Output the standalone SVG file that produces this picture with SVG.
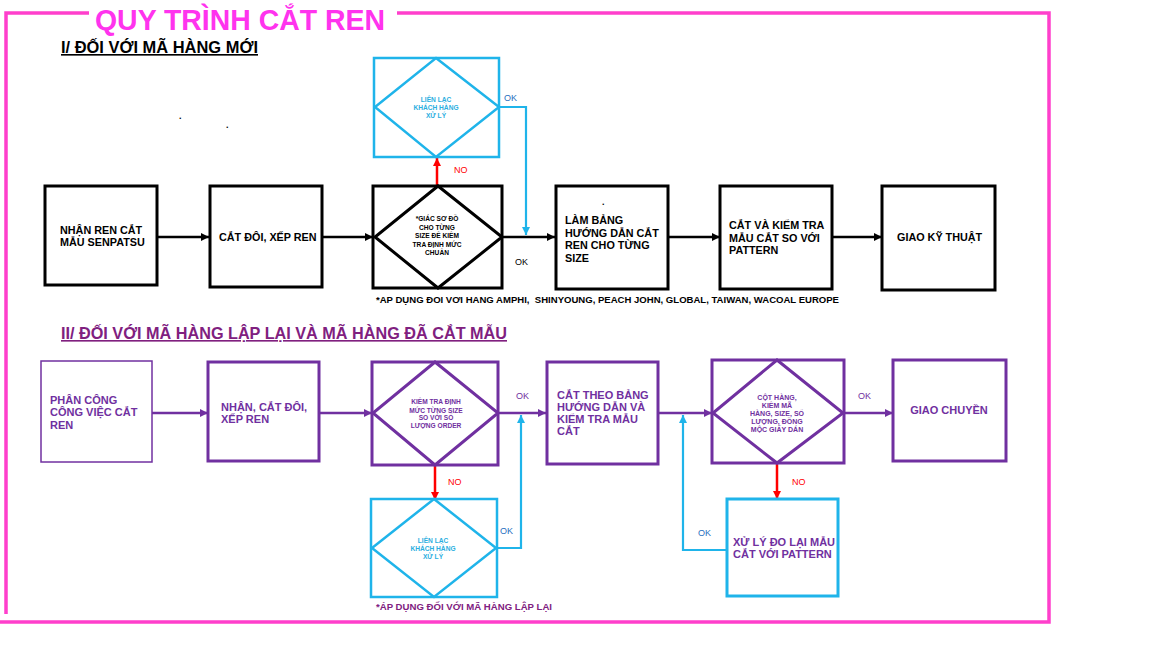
<svg xmlns="http://www.w3.org/2000/svg" width="1152" height="648" viewBox="0 0 1152 648">
<style>
text{font-family:"Liberation Sans",Arial,sans-serif;font-weight:bold}
.blk{fill:none;stroke:#000;stroke-width:3}
.pur{fill:none;stroke:#7030A0;stroke-width:3}
.cyn{fill:none;stroke:#1FB4EA;stroke-width:2.5}
.t11{font-size:10.8px;fill:#000}
.p11{font-size:11px;fill:#7030A0}
.tiny{font-size:6.6px;text-anchor:middle}
.lbl{font-family:"Liberation Sans",Arial,sans-serif;font-weight:normal;font-size:9px}
.cblk{fill:none;stroke:#000;stroke-width:2.5}
.cpur{fill:none;stroke:#7030A0;stroke-width:2.5}
.cred{fill:none;stroke:#FF0000;stroke-width:2.5}
.ccyn{fill:none;stroke:#1FB4EA;stroke-width:2.2}
</style>
<defs>
<marker id="ab" viewBox="0 0 10 10" refX="10" refY="5" markerWidth="9" markerHeight="8" markerUnits="userSpaceOnUse" orient="auto"><path d="M0,0 L10,5 L0,10 z" fill="#000"/></marker>
<marker id="ap" viewBox="0 0 10 10" refX="10" refY="5" markerWidth="9" markerHeight="8" markerUnits="userSpaceOnUse" orient="auto"><path d="M0,0 L10,5 L0,10 z" fill="#7030A0"/></marker>
<marker id="ar" viewBox="0 0 10 10" refX="10" refY="5" markerWidth="9" markerHeight="8" markerUnits="userSpaceOnUse" orient="auto"><path d="M0,0 L10,5 L0,10 z" fill="#FF0000"/></marker>
<marker id="ac" viewBox="0 0 10 10" refX="10" refY="5" markerWidth="9" markerHeight="8" markerUnits="userSpaceOnUse" orient="auto"><path d="M0,0 L10,5 L0,10 z" fill="#1FB4EA"/></marker>
</defs>
<rect width="1152" height="648" fill="#fff"/>
<g id="frame" fill="none" stroke="#FF3FCC" stroke-width="3.5">
<path d="M89,13 H6 V614"/>
<path d="M397,13 H1049 V622 H0"/>
</g>
<text id="title" x="95" y="30" font-size="29" fill="#FF33EE" textLength="290" lengthAdjust="spacingAndGlyphs">QUY TRÌNH CẮT REN</text>
<text id="heading1" x="61" y="53" font-size="16.3" fill="#000" text-decoration="underline" textLength="197" lengthAdjust="spacingAndGlyphs">I/ ĐỐI VỚI MÃ HÀNG MỚI</text>
<text x="179" y="119" font-size="9" fill="#000">.</text>
<text x="226" y="128" font-size="9" fill="#000">.</text>

<g id="connectors">
<path class="cblk" d="M157,237 H209" marker-end="url(#ab)"/>
<path class="cblk" d="M322,237 H373" marker-end="url(#ab)"/>
<path class="cblk" d="M502,237 H555" marker-end="url(#ab)"/>
<path class="cblk" d="M668,237 H720" marker-end="url(#ab)"/>
<path class="cblk" d="M832,237 H882" marker-end="url(#ab)"/>
<path class="cred" d="M437,186 V158" marker-end="url(#ar)"/>
<path class="ccyn" d="M499,107 H526 V235" marker-end="url(#ac)"/>
<path class="cpur" d="M152,413 H208" marker-end="url(#ap)"/>
<path class="cpur" d="M319,413 H372" marker-end="url(#ap)"/>
<path class="cpur" d="M498,413 H546" marker-end="url(#ap)"/>
<path class="cpur" d="M658,413 H712" marker-end="url(#ap)"/>
<path class="cpur" d="M844,413 H893" marker-end="url(#ap)"/>
<path class="cred" d="M435,465 V500" marker-end="url(#ar)"/>
<path class="cred" d="M777,463 V499" marker-end="url(#ar)"/>
<path class="ccyn" d="M496,548 H521 V415" marker-end="url(#ac)"/>
<path class="ccyn" d="M727,550 H683 V415" marker-end="url(#ac)"/>
<text class="lbl" x="504" y="101" fill="#1F6FC0">OK</text>
<text class="lbl" x="454" y="173" fill="#FF0000">NO</text>
<text class="lbl" x="515" y="265" fill="#000">OK</text>
<text class="lbl" x="516" y="399" fill="#7030A0">OK</text>
<text class="lbl" x="858" y="399" fill="#7030A0">OK</text>
<text class="lbl" x="448" y="485" fill="#FF0000">NO</text>
<text class="lbl" x="792" y="485" fill="#FF0000">NO</text>
<text class="lbl" x="500" y="534" fill="#1F6FC0">OK</text>
<text class="lbl" x="698" y="536" fill="#1F6FC0">OK</text>
</g>

<g id="n1">
<rect class="blk" x="45" y="186" width="112" height="99"/>
<text class="t11" x="60" y="234">NHẬN REN CẮT</text>
<text class="t11" x="60" y="246">MẪU SENPATSU</text>
</g>
<g id="n2">
<rect class="blk" x="210" y="186" width="112" height="101"/>
<text class="t11" x="219" y="241">CẮT ĐÔI, XẾP REN</text>
</g>
<g id="n3">
<rect class="blk" x="373" y="186" width="129" height="102"/>
<path class="blk" d="M438,186 L502,237 L438,288 L375,237 Z"/>
<g class="tiny" fill="#000">
<text x="437" y="221">*GIÁC SƠ ĐỒ</text>
<text x="437" y="229.5">CHO TỪNG</text>
<text x="437" y="238">SIZE ĐỂ KIỂM</text>
<text x="437" y="247">TRA ĐỊNH MỨC</text>
<text x="437" y="255">CHUẨN</text>
</g>
</g>
<g id="n3b">
<rect class="cyn" x="374" y="58" width="125" height="99"/>
<path class="cyn" d="M436,58 L499,107 L436,157 L375,107 Z"/>
<g class="tiny" fill="#2AAEE0">
<text x="436" y="102">LIÊN LẠC</text>
<text x="436" y="110">KHÁCH HÀNG</text>
<text x="436" y="118">XỬ LÝ</text>
</g>
</g>
<g id="n4">
<rect class="blk" x="556" y="186" width="112" height="103"/>
<text x="602" y="205" font-size="9" fill="#000">.</text>
<text class="t11" x="565" y="224">LÀM BẢNG</text>
<text class="t11" x="565" y="236.5">HƯỚNG DẪN CẮT</text>
<text class="t11" x="565" y="249">REN CHO TỪNG</text>
<text class="t11" x="565" y="261.5">SIZE</text>
</g>
<g id="n5">
<rect class="blk" x="720" y="186" width="112" height="103"/>
<text class="t11" x="729" y="229">CẮT VÀ KIỂM TRA</text>
<text class="t11" x="729" y="241.5">MẪU CẮT SO VỚI</text>
<text class="t11" x="729" y="254">PATTERN</text>
</g>
<g id="n6">
<rect class="blk" x="882" y="186" width="113" height="104"/>
<text class="t11" x="897" y="241">GIAO KỸ THUẬT</text>
</g>
<text id="note1" xml:space="preserve" x="376" y="303" font-size="8.6" fill="#000" textLength="463" lengthAdjust="spacingAndGlyphs">*AP DỤNG ĐOI VƠI HANG AMPHI,  SHINYOUNG, PEACH JOHN, GLOBAL, TAIWAN, WACOAL EUROPE</text>

<text id="heading2" x="61" y="339" font-size="16.3" fill="#80207F" text-decoration="underline" textLength="446" lengthAdjust="spacingAndGlyphs">II/ ĐỐI VỚI MÃ HÀNG LẬP LẠI VÀ MÃ HÀNG ĐÃ CẮT MẪU</text>

<g id="m1">
<rect x="41" y="361" width="111" height="101" fill="none" stroke="#7030A0" stroke-width="1.5"/>
<text class="p11" x="50" y="403.5">PHÂN CÔNG</text>
<text class="p11" x="50" y="415.5">CÔNG VIỆC CẮT</text>
<text class="p11" x="50" y="428.5">REN</text>
</g>
<g id="m2">
<rect class="pur" x="208" y="362" width="111" height="99"/>
<text class="p11" x="221" y="411">NHẬN, CẮT ĐÔI,</text>
<text class="p11" x="221" y="423">XẾP REN</text>
</g>
<g id="m3">
<rect class="pur" x="372" y="362" width="126" height="103"/>
<path class="pur" d="M435,362 L498,413 L435,465 L373,413 Z"/>
<g class="tiny" fill="#7030A0">
<text x="436" y="404">KIỂM TRA ĐỊNH</text>
<text x="436" y="412.5">MỨC TỪNG SIZE</text>
<text x="436" y="420">SO VỚI SỐ</text>
<text x="436" y="428">LƯỢNG ORDER</text>
</g>
</g>
<g id="m3b">
<rect class="cyn" x="371" y="499" width="126" height="98"/>
<path class="cyn" d="M434,499 L496,548 L434,597 L372,548 Z"/>
<g class="tiny" fill="#2AAEE0">
<text x="433" y="543">LIÊN LẠC</text>
<text x="433" y="551">KHÁCH HÀNG</text>
<text x="433" y="559">XỬ LÝ</text>
</g>
</g>
<text id="note2" x="376" y="610" font-size="8.6" fill="#80207F" textLength="176" lengthAdjust="spacingAndGlyphs">*ÁP DỤNG ĐỐI VỚI MÃ HÀNG LẬP LẠI</text>
<g id="m4">
<rect class="pur" x="547" y="362" width="111" height="102"/>
<text class="p11" x="557" y="399">CẮT THEO BẢNG</text>
<text class="p11" x="557" y="411">HƯỚNG DẪN VÀ</text>
<text class="p11" x="557" y="423">KIỂM TRA MẪU</text>
<text class="p11" x="557" y="435">CẮT</text>
</g>
<g id="m5">
<rect class="pur" x="712" y="360" width="132" height="103"/>
<path class="pur" d="M777,360 L843,413 L777,463 L713,413 Z"/>
<g class="tiny" fill="#7030A0" style="font-size:7px">
<text x="777" y="399.5">CỘT HÀNG,</text>
<text x="777" y="407.5">KIỂM MÃ</text>
<text x="777" y="415.5">HÀNG, SIZE, SỐ</text>
<text x="777" y="423.5">LƯỢNG, ĐỒNG</text>
<text x="777" y="431.5">MỘC GIẤY DÁN</text>
</g>
</g>
<g id="m5b">
<rect x="727" y="499" width="111" height="97" fill="none" stroke="#1FB4EA" stroke-width="3"/>
<text class="p11" x="733" y="546">XỬ LÝ ĐO LẠI MẪU</text>
<text class="p11" x="733" y="558">CẮT VỚI PATTERN</text>
</g>
<g id="m6">
<rect class="pur" x="893" y="360" width="113" height="101"/>
<text class="p11" x="949" y="414" text-anchor="middle">GIAO CHUYỀN</text>
</g>
</svg>
